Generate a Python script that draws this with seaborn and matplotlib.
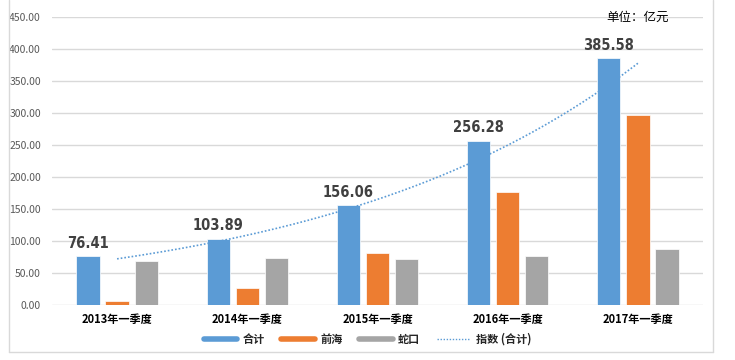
import numpy as np
import pandas as pd
import seaborn as sns
import matplotlib.pyplot as plt
from matplotlib.lines import Line2D
from matplotlib.ticker import FormatStrFormatter

# DATA

quarters = ["2013年一季度", "2014年一季度", "2015年一季度", "2016年一季度", "2017年一季度"]
series_names = ["合计", "前海", "蛇口"]
total = [76.41, 103.89, 156.06, 256.28, 385.58]
qianhai = [6.6, 26.5, 82.0, 176.5, 297.0]
shekou = [68.0, 73.5, 71.6, 76.0, 87.5]

colors = ["#5B9BD5", "#ED7D31", "#A5A5A5"]

df = pd.DataFrame({
    "季度": quarters * 3,
    "类别": [s for s in series_names for _ in quarters],
    "值": total + qianhai + shekou,
})

# STYLE

sns.set_theme(style="white")
plt.rcParams["font.family"] = ["Noto Sans CJK SC", "DejaVu Sans"]

fig = plt.figure(figsize=(7.35, 3.6), dpi=100)
ax = fig.add_axes([0.0707, 0.1528, 0.8858, 0.80])

sns.barplot(
    data=df,
    x="季度",
    y="值",
    hue="类别",
    palette=colors,
    saturation=1,
    width=0.67,
    gap=0.2,
    edgecolor="white",
    linewidth=0.5,
    legend=False,
    ax=ax
)

# Exponential trendline of the totals
idx = np.arange(len(total))
coef = np.polyfit(idx, np.log(total), 1)
xs = np.linspace(idx[0], idx[-1], 200)
ax.plot(xs, np.exp(np.polyval(coef, xs)), linestyle=(0, (1, 1.2)),
        color="#5B9BD5", linewidth=1.2)

# Value labels on the total bars
ax.bar_label(
    ax.containers[0],
    fmt="%.2f",
    padding=4,
    fontsize=10.5,
    fontweight="bold",
    fontstretch="condensed",
    color="#404040",
    family=["DejaVu Sans", "Liberation Sans Narrow"]
)

ax.set_ylim(0, 450)
ax.set_xlim(-0.5, 4.5)
ax.set_yticks(np.arange(0, 451, 50))
ax.yaxis.set_major_formatter(FormatStrFormatter("%.2f"))
ax.grid(axis="y", color="#D9D9D9", linewidth=1)
ax.set_axisbelow(True)
for s in ax.spines.values():
    s.set_visible(False)

ax.set_xlabel("")
ax.set_ylabel("")
ax.tick_params(axis="y", length=0, pad=8, labelsize=7.5, labelcolor="#595959")
ax.tick_params(axis="x", length=0, pad=6, labelsize=8, labelcolor="black")
for t in ax.get_xticklabels():
    t.set_fontweight("bold")

ax.text(0.868, 0.953, "单位：亿元", transform=fig.transFigure,
        fontsize=9, color="black", ha="center", va="center")

handles = [Line2D([], [], color=c, linewidth=4) for c in colors]
handles.append(Line2D([], [], color="#5B9BD5", linewidth=1, linestyle=(0, (1, 1.2))))
fig.legend(
    handles,
    series_names + ["指数 (合计)"],
    loc="center",
    bbox_to_anchor=(0.5, 0.058),
    ncol=4,
    frameon=False,
    prop={"size": 8, "weight": "bold"},
    handlelength=3,
    columnspacing=1.5,
    handletextpad=0.5
)

# Outer chart frame
frame_color = "#D9D9D9"
fig.add_artist(Line2D([0.0122, 0.0122], [0.022, 1.0], color=frame_color, linewidth=1))
fig.add_artist(Line2D([0.970, 0.970], [0.022, 1.0], color=frame_color, linewidth=1))
fig.add_artist(Line2D([0.0122, 0.970], [0.022, 0.022], color=frame_color, linewidth=1))

plt.savefig("out.png", dpi=100, facecolor="white")
plt.close()
